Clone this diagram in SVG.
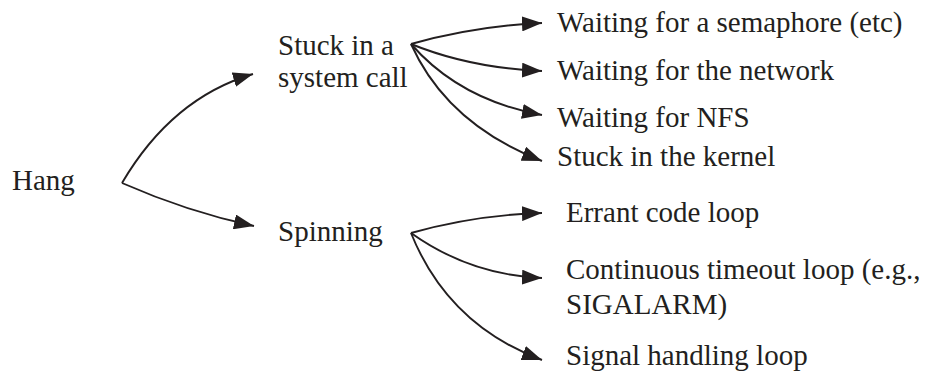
<svg xmlns="http://www.w3.org/2000/svg" width="930" height="373" viewBox="0 0 930 373">
  <style>
    .lbl { font-family: 'Liberation Serif', 'DejaVu Serif', serif; font-size: 29px; fill: #231f20; }
    .edge { fill: none; stroke: #231f20; stroke-width: 1.9; marker-end: url(#arrow); }
  </style>
  <defs>
    <marker id="arrow" viewBox="0 0 20 15" refX="20" refY="7.5" markerWidth="20" markerHeight="15" markerUnits="userSpaceOnUse" orient="auto">
      <path d="M0,0 L20,7.5 L0,15 Z" fill="#231f20"/>
    </marker>
  </defs>
  <rect width="930" height="373" fill="#ffffff"/>

  <g id="connectors">
    <!-- Hang branches -->
    <path class="edge" d="M122,183 Q172,98 253,74"/>
    <path class="edge" d="M122,183 Q188,212 254,226"/>
    <!-- system call branches -->
    <path class="edge" d="M411,44 Q475,26 542,23"/>
    <path class="edge" d="M411,44 Q470,68 542,71"/>
    <path class="edge" d="M411,44 Q460,100 542,115"/>
    <path class="edge" d="M411,44 Q447,124 542,161"/>
    <!-- spinning branches -->
    <path class="edge" d="M411,233 Q475,215 542,213"/>
    <path class="edge" d="M411,233 Q470,275 542,278"/>
    <path class="edge" d="M411,233 Q448,325 542,360"/>
  </g>

  <g font-family="Liberation Serif, DejaVu Serif, serif">
    <g id="hang"><text class="lbl" x="12" y="190">Hang</text></g>
    <g id="stuck-syscall">
      <text class="lbl" x="278" y="55">Stuck in a</text>
      <text class="lbl" x="278" y="87">system call</text>
    </g>
    <g id="spinning"><text class="lbl" x="278" y="241">Spinning</text></g>

    <g id="semaphore"><text class="lbl" x="557" y="32">Waiting for a semaphore (etc)</text></g>
    <g id="network"><text class="lbl" x="557" y="80">Waiting for the network</text></g>
    <g id="nfs"><text class="lbl" x="557" y="127">Waiting for NFS</text></g>
    <g id="kernel"><text class="lbl" x="557" y="166">Stuck in the kernel</text></g>

    <g id="errant"><text class="lbl" x="566" y="222">Errant code loop</text></g>
    <g id="timeout">
      <text class="lbl" x="566" y="279">Continuous timeout loop (e.g.,</text>
      <text class="lbl" x="566" y="314">SIGALARM)</text>
    </g>
    <g id="signal"><text class="lbl" x="566" y="365">Signal handling loop</text></g>
  </g>
</svg>
